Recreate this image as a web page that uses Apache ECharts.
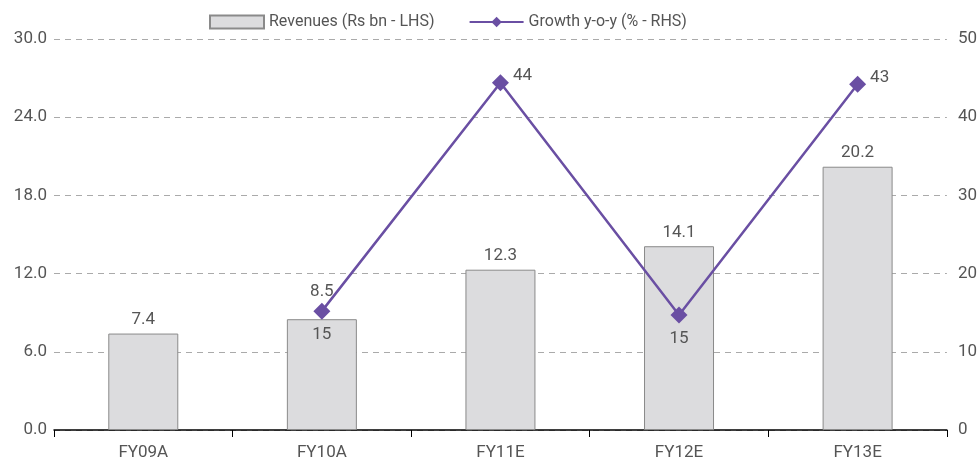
<!DOCTYPE html>
<html>
<head>
<meta charset="utf-8">
<script src="https://cdn.jsdelivr.net/npm/echarts@6/dist/echarts.min.js"></script>
<style>
  html, body { margin: 0; padding: 0; background: #fff; }
</style>
</head>
<body>
<div id="myChart" style="width: 980px; height: 472px;"></div>
<script>
var categories = ['FY09A', 'FY10A', 'FY11E', 'FY12E', 'FY13E'];
var revenues = [7.4, 8.5, 12.3, 14.1, 20.2];
var growth = [null, 15.2, 44.4, 14.7, 44.2];
var growthLabels = ['', '15', '44', '15', '43'];
var growthLabelPos = ['right', 'bottom', 'right', 'bottom', 'right'];

var textColor = '#555555';
var fontFamily = 'Roboto';

var chart = echarts.init(document.getElementById('myChart'));

var barData = [];
for (var i = 0; i < revenues.length; i++) {
  var item = { value: revenues[i] };
  // the FY10A label sits above the growth marker in the original
  if (i === 1) item.label = { distance: 19 };
  barData.push(item);
}

var lineData = [];
for (var j = 0; j < growth.length; j++) {
  lineData.push({
    value: growth[j],
    label: {
      position: growthLabelPos[j],
      offset: growthLabelPos[j] === 'right' ? [-3, -7] : [0, 0]
    }
  });
}

var option = {
  animation: false,
  textStyle: { fontFamily: fontFamily },
  legend: {
    top: 9,
    left: 204,
    itemGap: 34,
    itemWidth: 54,
    itemHeight: 13,
    textStyle: { color: textColor, fontSize: 16, fontFamily: fontFamily },
    data: [
      { name: 'Revenues (Rs bn - LHS)', icon: 'rect' },
      { name: 'Growth y-o-y (% - RHS)' }
    ]
  },
  grid: { left: 54, right: 33, top: 39, bottom: 42 },
  xAxis: {
    type: 'category',
    data: categories,
    axisLine: { lineStyle: { color: '#000', width: 1.5 } },
    axisTick: { show: true, length: 7, lineStyle: { color: '#000' } },
    axisLabel: { color: textColor, fontSize: 17, margin: 14 }
  },
  yAxis: [
    {
      type: 'value',
      min: 0,
      max: 30,
      interval: 6,
      axisLine: { show: false },
      axisTick: { show: false },
      axisLabel: {
        color: textColor,
        fontSize: 17,
        margin: 7,
        formatter: function (v) { return v.toFixed(1); }
      },
      splitLine: { lineStyle: { color: '#aaaaaa', type: [6, 5] } }
    },
    {
      type: 'value',
      min: 0,
      max: 50,
      interval: 10,
      axisLine: { show: false },
      axisTick: { show: false },
      axisLabel: { color: textColor, fontSize: 17, margin: 11 },
      splitLine: { show: false }
    }
  ],
  series: [
    {
      name: 'Revenues (Rs bn - LHS)',
      type: 'bar',
      yAxisIndex: 0,
      barWidth: 70,
      data: barData,
      itemStyle: { color: '#dcdcde', borderColor: '#8a8a8a', borderWidth: 1 },
      label: {
        show: true,
        position: 'top',
        color: textColor,
        fontSize: 17,
        distance: 5,
        formatter: function (p) { return p.value.toFixed(1); }
      }
    },
    {
      name: 'Growth y-o-y (% - RHS)',
      type: 'line',
      yAxisIndex: 1,
      data: lineData,
      symbol: 'diamond',
      symbolSize: 17,
      lineStyle: { color: '#6a4fa3', width: 2.5 },
      itemStyle: { color: '#6a4fa3' },
      label: {
        show: true,
        color: textColor,
        fontSize: 17,
        distance: 7,
        formatter: function (p) { return growthLabels[p.dataIndex]; }
      }
    }
  ]
};

chart.setOption(option);
</script>
</body>
</html>
